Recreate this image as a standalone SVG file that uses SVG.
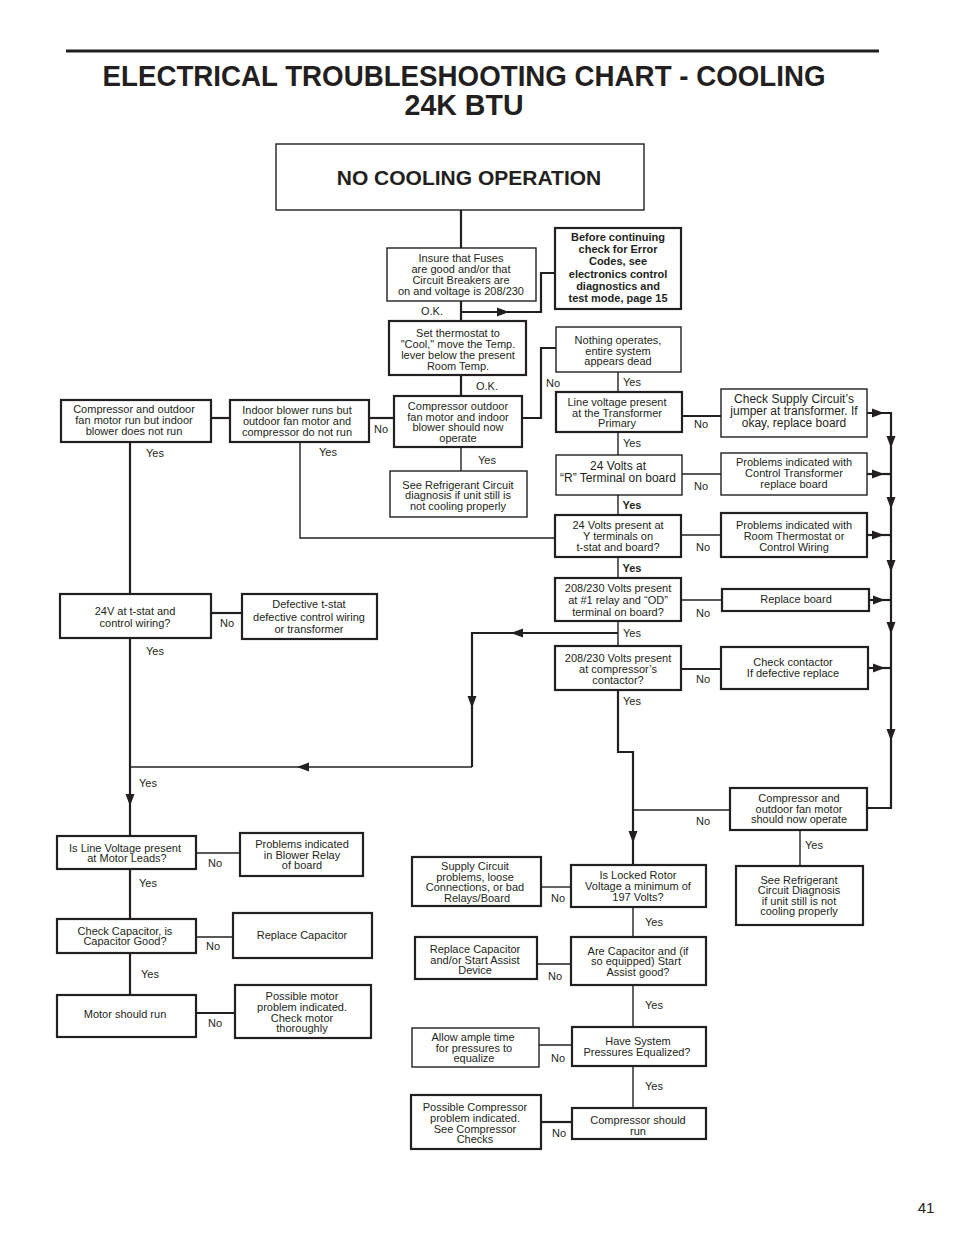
<svg xmlns="http://www.w3.org/2000/svg" xmlns:xlink="http://www.w3.org/1999/xlink" width="954" height="1235" viewBox="0 0 954 1235">
<style>
.bx{fill:#fff;stroke:#231f20;stroke-width:1.4}
.bk{fill:#fff;stroke:#231f20;stroke-width:2.2}
text{font-family:"Liberation Sans",Arial,sans-serif;font-size:11px;fill:#231f20}
.c{text-anchor:middle}
.b{font-weight:bold}
.l{font-size:11px}
.cn path,.cn line,.cn polyline{fill:none;stroke:#231f20;stroke-width:1.4}
.cn .k{stroke-width:2.2}
.ah{fill:#231f20;stroke:none}
</style>
<defs>
<path id="ah" d="M-6,-4.5 L6,0 L-6,4.5 Z" class="ah"/>
</defs>
<rect width="954" height="1235" fill="#fff"/>
<line x1="66" y1="51" x2="879" y2="51" stroke="#231f20" stroke-width="3"/>
<text x="464" y="86" class="c b" style="font-size:29px" textLength="723" lengthAdjust="spacingAndGlyphs">ELECTRICAL TROUBLESHOOTING CHART - COOLING</text>
<text x="464" y="115" class="c b" style="font-size:29px" textLength="119" lengthAdjust="spacingAndGlyphs">24K BTU</text>

<g id="connectors" class="cn">
<line class="k" x1="461" y1="210" x2="461" y2="248"/>
<line class="k" x1="461" y1="301" x2="461" y2="321"/>
<polyline class="k" points="461,312 541,312 541,273 555,273"/>
<use xlink:href="#ah" transform="translate(503,312)"/>
<line class="k" x1="461" y1="375" x2="461" y2="396"/>
<polyline class="k" points="522,418 541,418 541,348 556,348"/>
<line class="k" x1="369" y1="418" x2="394" y2="418"/>
<line class="k" x1="211" y1="418" x2="230" y2="418"/>
<line x1="461" y1="447" x2="461" y2="471"/>
<line x1="618" y1="372" x2="618" y2="392"/>
<line x1="618" y1="432" x2="618" y2="455"/>
<line x1="618" y1="495" x2="618" y2="515"/>
<line x1="618" y1="557" x2="618" y2="578"/>
<line x1="618" y1="621" x2="618" y2="646"/>
<line class="k" x1="682" y1="416" x2="721" y2="416"/>
<line x1="682" y1="474" x2="721" y2="474"/>
<line x1="681" y1="535" x2="721" y2="535"/>
<line x1="681" y1="600" x2="722" y2="600"/>
<line class="k" x1="681" y1="669" x2="721" y2="669"/>
<polyline points="300,442 300,538 555,538"/>
<!-- right bus -->
<polyline class="k" points="867,413 891,413 891,808 867,808"/>
<line class="k" x1="867" y1="474" x2="891" y2="474"/>
<line class="k" x1="867" y1="535" x2="891" y2="535"/>
<line class="k" x1="869" y1="600" x2="891" y2="600"/>
<line class="k" x1="868" y1="668" x2="891" y2="668"/>
<use xlink:href="#ah" transform="translate(878,413)"/>
<use xlink:href="#ah" transform="translate(878,474)"/>
<use xlink:href="#ah" transform="translate(878,535)"/>
<use xlink:href="#ah" transform="translate(879,600)"/>
<use xlink:href="#ah" transform="translate(879,668)"/>
<use xlink:href="#ah" transform="translate(891,442) rotate(90)"/>
<use xlink:href="#ah" transform="translate(891,503) rotate(90)"/>
<use xlink:href="#ah" transform="translate(891,566) rotate(90)"/>
<use xlink:href="#ah" transform="translate(891,628) rotate(90)"/>
<use xlink:href="#ah" transform="translate(891,735) rotate(90)"/>
<!-- left return branch -->
<polyline class="k" points="618,633 472,633 472,767"/>
<use xlink:href="#ah" transform="translate(517,633) rotate(180)"/>
<use xlink:href="#ah" transform="translate(472,702) rotate(90)"/>
<line x1="472" y1="767" x2="130" y2="767"/>
<use xlink:href="#ah" transform="translate(303,767) rotate(180)"/>
<!-- main down to locked rotor -->
<polyline class="k" points="618,690 618,752 633,752 633,865"/>
<use xlink:href="#ah" transform="translate(633,837) rotate(90)"/>
<line x1="633" y1="810" x2="730" y2="810"/>
<line x1="800" y1="830" x2="800" y2="866"/>
<line x1="571" y1="887" x2="541" y2="887"/>
<line x1="633" y1="907" x2="633" y2="937"/>
<line x1="571" y1="964" x2="537" y2="964"/>
<line x1="633" y1="985" x2="633" y2="1027"/>
<line x1="572" y1="1045" x2="539" y2="1045"/>
<line x1="633" y1="1066" x2="633" y2="1108"/>
<line class="k" x1="572" y1="1122" x2="541" y2="1122"/>
<!-- left column -->
<line class="k" x1="130" y1="442" x2="130" y2="594"/>
<line class="k" x1="211" y1="613" x2="242" y2="613"/>
<line class="k" x1="130" y1="638" x2="130" y2="836"/>
<use xlink:href="#ah" transform="translate(130,800) rotate(90)"/>
<line x1="196" y1="853" x2="240" y2="853"/>
<line class="k" x1="130" y1="869" x2="130" y2="919"/>
<line x1="196" y1="937" x2="233" y2="937"/>
<line class="k" x1="130" y1="953" x2="130" y2="995"/>
<line class="k" x1="196" y1="1013" x2="235" y2="1013"/>
</g>

<g id="n-start"><rect class="bx" x="276" y="144" width="368" height="66"/><text x="469" y="185" class="c b" style="font-size:21px">NO COOLING OPERATION</text></g>

<g id="n-fuses"><rect class="bx" x="387" y="248" width="149" height="53"/>
<text class="c" x="461"><tspan x="461" y="262">Insure that Fuses</tspan><tspan x="461" y="273">are good and/or that</tspan><tspan x="461" y="284">Circuit Breakers are</tspan><tspan x="461" y="295">on and voltage is 208/230</tspan></text></g>
<text x="432" y="315" class="c">O.K.</text>

<g id="n-before"><rect class="bk" x="555" y="228" width="126" height="81"/>
<text class="c b"><tspan x="618" y="241">Before continuing</tspan><tspan x="618" y="253">check for Error</tspan><tspan x="618" y="265">Codes, see</tspan><tspan x="618" y="278">electronics control</tspan><tspan x="618" y="290">diagnostics and</tspan><tspan x="618" y="302">test mode, page 15</tspan></text></g>

<g id="n-thermostat"><rect class="bk" x="389" y="321" width="137" height="54"/>
<text class="c"><tspan x="458" y="337">Set thermostat to</tspan><tspan x="458" y="348">"Cool," move the Temp.</tspan><tspan x="458" y="359">lever below  the present</tspan><tspan x="458" y="370">Room Temp.</tspan></text></g>
<text x="487" y="390" class="c">O.K.</text>

<g id="n-compnow"><rect class="bk" x="394" y="396" width="128" height="51"/>
<text class="c"><tspan x="458" y="410">Compressor outdoor</tspan><tspan x="458" y="421">fan motor and indoor</tspan><tspan x="458" y="431">blower should now</tspan><tspan x="458" y="442">operate</tspan></text></g>
<text x="487" y="464" class="c">Yes</text>
<text x="381" y="433" class="c">No</text>

<g id="n-seeref1"><rect class="bx" x="390" y="471" width="137" height="46"/>
<text class="c"><tspan x="458" y="489">See Refrigerant Circuit</tspan><tspan x="458" y="499">diagnosis if unit still is</tspan><tspan x="458" y="510">not cooling properly</tspan></text></g>

<g id="n-nothing"><rect class="bx" x="556" y="327" width="125" height="45"/>
<text class="c"><tspan x="618" y="344">Nothing operates,</tspan><tspan x="618" y="355">entire system</tspan><tspan x="618" y="365">appears dead</tspan></text></g>
<text x="553" y="387" class="c">No</text>
<text x="632" y="386" class="c">Yes</text>

<g id="n-linevolt"><rect class="bk" x="556" y="392" width="126" height="40"/>
<text class="c"><tspan x="617" y="406">Line voltage present</tspan><tspan x="617" y="417">at the Transformer</tspan><tspan x="617" y="427">Primary</tspan></text></g>
<text x="701" y="428" class="c">No</text>
<text x="632" y="447" class="c">Yes</text>

<g id="n-checksupply"><rect class="bx" x="721" y="389" width="146" height="48"/>
<text class="c" style="font-size:12px"><tspan x="794" y="403">Check Supply Circuit’s</tspan><tspan x="794" y="415">jumper at transformer. If</tspan><tspan x="794" y="427">okay, replace board</tspan></text></g>

<g id="n-24r"><rect class="bx" x="556" y="455" width="126" height="40"/>
<text class="c" style="font-size:12px"><tspan x="618" y="470">24 Volts at</tspan><tspan x="618" y="482">“R” Terminal on board</tspan></text></g>
<text x="701" y="490" class="c">No</text>
<text x="632" y="509" class="c b">Yes</text>

<g id="n-ctrans"><rect class="bx" x="721" y="453" width="146" height="42"/>
<text class="c"><tspan x="794" y="466">Problems indicated with</tspan><tspan x="794" y="477">Control Transformer</tspan><tspan x="794" y="488">replace board</tspan></text></g>

<g id="n-24y"><rect class="bk" x="555" y="515" width="126" height="42"/>
<text class="c"><tspan x="618" y="529">24 Volts present at</tspan><tspan x="618" y="540">Y terminals on</tspan><tspan x="618" y="551">t-stat and board?</tspan></text></g>
<text x="703" y="551" class="c">No</text>
<text x="632" y="572" class="c b">Yes</text>

<g id="n-roomt"><rect class="bk" x="721" y="513" width="146" height="44"/>
<text class="c"><tspan x="794" y="529">Problems indicated with</tspan><tspan x="794" y="540">Room Thermostat or</tspan><tspan x="794" y="551">Control Wiring</tspan></text></g>

<g id="n-relay"><rect class="bk" x="555" y="578" width="126" height="43"/>
<text class="c"><tspan x="618" y="592">208/230 Volts present</tspan><tspan x="618" y="604">at #1 relay and “OD”</tspan><tspan x="618" y="616">terminal on board?</tspan></text></g>
<text x="703" y="617" class="c">No</text>
<text x="632" y="637" class="c">Yes</text>

<g id="n-replboard"><rect class="bk" x="722" y="589" width="147" height="22"/>
<text x="796" y="603" class="c">Replace board</text></g>

<g id="n-contactor"><rect class="bk" x="555" y="646" width="126" height="44"/>
<text class="c"><tspan x="618" y="662">208/230 Volts present</tspan><tspan x="618" y="673">at compressor’s</tspan><tspan x="618" y="684">contactor?</tspan></text></g>
<text x="703" y="683" class="c">No</text>
<text x="632" y="705" class="c">Yes</text>

<g id="n-checkcont"><rect class="bk" x="721" y="647" width="147" height="42"/>
<text class="c"><tspan x="793" y="666">Check contactor</tspan><tspan x="793" y="677">If defective replace</tspan></text></g>

<g id="n-compfan"><rect class="bk" x="730" y="788" width="137" height="42"/>
<text class="c"><tspan x="799" y="802">Compressor and</tspan><tspan x="799" y="813">outdoor fan motor</tspan><tspan x="799" y="823">should now operate</tspan></text></g>
<text x="703" y="825" class="c">No</text>
<text x="814" y="849" class="c">Yes</text>

<g id="n-seeref2"><rect class="bk" x="736" y="866" width="127" height="59"/>
<text class="c"><tspan x="799" y="884">See Refrigerant</tspan><tspan x="799" y="894">Circuit Diagnosis</tspan><tspan x="799" y="905">if unit still is not</tspan><tspan x="799" y="915">cooling properly</tspan></text></g>

<g id="n-locked"><rect class="bk" x="571" y="865" width="135" height="42"/>
<text class="c"><tspan x="638" y="879">Is Locked Rotor</tspan><tspan x="638" y="890">Voltage a minimum of</tspan><tspan x="638" y="901">197 Volts?</tspan></text></g>
<text x="558" y="902" class="c">No</text>
<text x="654" y="926" class="c">Yes</text>

<g id="n-supplycirc"><rect class="bk" x="412" y="857" width="129" height="49"/>
<text class="c"><tspan x="475" y="870">Supply Circuit</tspan><tspan x="475" y="881">problems, loose</tspan><tspan x="475" y="891">Connections, or bad</tspan><tspan x="477" y="902">Relays/Board</tspan></text></g>

<g id="n-capgood"><rect class="bk" x="571" y="937" width="135" height="48"/>
<text class="c"><tspan x="638" y="955">Are Capacitor and (if</tspan><tspan x="636" y="965">so equipped) Start</tspan><tspan x="638" y="976">Assist good?</tspan></text></g>
<text x="555" y="980" class="c">No</text>
<text x="654" y="1009" class="c">Yes</text>

<g id="n-replcap2"><rect class="bk" x="415" y="937" width="122" height="42"/>
<text class="c"><tspan x="475" y="953">Replace Capacitor</tspan><tspan x="475" y="964">and/or Start Assist</tspan><tspan x="475" y="974">Device</tspan></text></g>

<g id="n-pressures"><rect class="bk" x="572" y="1027" width="134" height="39"/>
<text class="c"><tspan x="638" y="1045">Have System</tspan><tspan x="637" y="1056">Pressures Equalized?</tspan></text></g>
<text x="558" y="1062" class="c">No</text>
<text x="654" y="1090" class="c">Yes</text>

<g id="n-allow"><rect class="bx" x="412" y="1028" width="127" height="39"/>
<text class="c"><tspan x="473" y="1041">Allow ample time</tspan><tspan x="474" y="1052">for pressures to</tspan><tspan x="474" y="1062">equalize</tspan></text></g>

<g id="n-comprun"><rect class="bk" x="572" y="1108" width="134" height="31"/>
<text class="c"><tspan x="638" y="1124">Compressor should</tspan><tspan x="638" y="1135">run</tspan></text></g>
<text x="559" y="1137" class="c">No</text>

<g id="n-possiblecomp"><rect class="bk" x="411" y="1095" width="130" height="54"/>
<text class="c"><tspan x="475" y="1111">Possible Compressor</tspan><tspan x="475" y="1122">problem indicated.</tspan><tspan x="475" y="1133">See Compressor</tspan><tspan x="475" y="1143">Checks</tspan></text></g>

<g id="n-compfanrun"><rect class="bk" x="61" y="400" width="150" height="42"/>
<text class="c"><tspan x="134" y="413">Compressor and outdoor</tspan><tspan x="134" y="424">fan motor run but indoor</tspan><tspan x="134" y="435">blower does not run</tspan></text></g>
<text x="155" y="457" class="c">Yes</text>

<g id="n-indoor"><rect class="bk" x="230" y="400" width="139" height="42"/>
<text class="c"><tspan x="297" y="414">Indoor blower runs but</tspan><tspan x="297" y="425">outdoor fan motor and</tspan><tspan x="297" y="436">compressor do not run</tspan></text></g>
<text x="328" y="456" class="c">Yes</text>

<g id="n-24v"><rect class="bk" x="60" y="594" width="151" height="44"/>
<text class="c"><tspan x="135" y="615">24V at t-stat and</tspan><tspan x="135" y="627">control wiring?</tspan></text></g>
<text x="227" y="627" class="c">No</text>
<text x="155" y="655" class="c">Yes</text>

<g id="n-deftstat"><rect class="bk" x="242" y="594" width="135" height="45"/>
<text class="c"><tspan x="309" y="608">Defective t-stat</tspan><tspan x="309" y="621">defective control wiring</tspan><tspan x="309" y="633">or transformer</tspan></text></g>
<text x="148" y="787" class="c">Yes</text>

<g id="n-linemotor"><rect class="bk" x="57" y="836" width="139" height="33"/>
<text class="c"><tspan x="125" y="852">Is Line Voltage present</tspan><tspan x="127" y="862">at Motor Leads?</tspan></text></g>
<text x="215" y="867" class="c">No</text>
<text x="148" y="887" class="c">Yes</text>

<g id="n-blowrelay"><rect class="bk" x="240" y="833" width="123" height="43"/>
<text class="c"><tspan x="302" y="848">Problems indicated</tspan><tspan x="302" y="859">in Blower Relay</tspan><tspan x="302" y="869">of board</tspan></text></g>

<g id="n-checkcap"><rect class="bk" x="57" y="919" width="139" height="34"/>
<text class="c"><tspan x="125" y="935">Check Capacitor, is</tspan><tspan x="125" y="945">Capacitor Good?</tspan></text></g>
<text x="213" y="950" class="c">No</text>
<text x="150" y="978" class="c">Yes</text>

<g id="n-replcap"><rect class="bk" x="233" y="913" width="139" height="45"/>
<text x="302" y="939" class="c">Replace Capacitor</text></g>

<g id="n-motorrun"><rect class="bk" x="57" y="995" width="139" height="42"/>
<text x="125" y="1018" class="c">Motor should run</text></g>
<text x="215" y="1027" class="c">No</text>

<g id="n-motorprob"><rect class="bk" x="235" y="985" width="136" height="53"/>
<text class="c"><tspan x="302" y="1000">Possible motor</tspan><tspan x="302" y="1011">problem indicated.</tspan><tspan x="302" y="1022">Check motor</tspan><tspan x="302" y="1032">thoroughly</tspan></text></g>

<text x="926" y="1213" class="c" style="font-size:15px">41</text>
</svg>
